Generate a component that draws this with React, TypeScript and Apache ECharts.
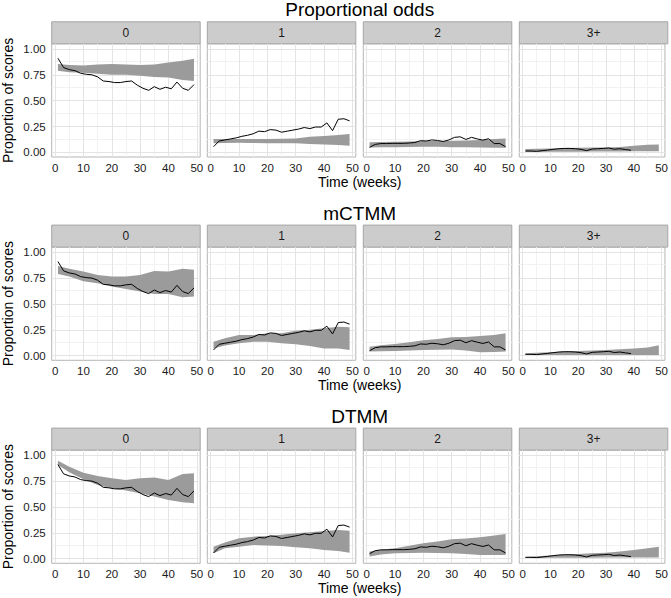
import React, { useEffect, useRef } from "react";
import * as echarts from "echarts";

// ---------- data ----------
const rowTitles = ["Proportional odds", "mCTMM", "DTMM"];
const categories = ["0", "1", "2", "3+"];

const obsWeeks = [1, 3, 5, 7, 9, 11, 13, 15, 17, 19, 21, 23, 25, 27, 29, 31, 33, 35, 37, 39, 41, 43, 45, 47, 49];
const obsWeeks3 = [1, 3, 5, 7, 9, 11, 13, 15, 17, 19, 21, 23, 25, 27, 29, 31, 33, 35, 37, 39];

const observed0 = [0.91, 0.82, 0.8, 0.79, 0.765, 0.755, 0.75, 0.73, 0.69, 0.685, 0.675, 0.675, 0.685, 0.69, 0.65, 0.62, 0.6, 0.635, 0.61, 0.63, 0.615, 0.68, 0.62, 0.6, 0.655];
const observed1 = [0.055, 0.11, 0.12, 0.13, 0.14, 0.155, 0.165, 0.18, 0.205, 0.2, 0.22, 0.215, 0.195, 0.205, 0.215, 0.225, 0.24, 0.23, 0.245, 0.245, 0.285, 0.21, 0.32, 0.325, 0.305];
const observed2 = [0.048, 0.077, 0.085, 0.085, 0.087, 0.087, 0.087, 0.09, 0.095, 0.113, 0.11, 0.12, 0.115, 0.105, 0.12, 0.145, 0.15, 0.125, 0.145, 0.13, 0.118, 0.132, 0.085, 0.085, 0.055];
const observed3 = [0.013, 0.013, 0.01, 0.016, 0.022, 0.029, 0.035, 0.038, 0.038, 0.035, 0.029, 0.016, 0.032, 0.035, 0.038, 0.042, 0.03, 0.035, 0.027, 0.02];

const ribbonWeeks = [1, 5, 10, 15, 20, 25, 30, 35, 40, 45, 49];

// Proportional odds: prediction band (lower / upper) per category
const poLow0 = [0.79, 0.775, 0.77, 0.76, 0.75, 0.75, 0.74, 0.73, 0.725, 0.7, 0.69];
const poHigh0 = [0.855, 0.845, 0.84, 0.85, 0.855, 0.85, 0.845, 0.85, 0.87, 0.887, 0.905];
const poLow1 = [0.087, 0.09, 0.093, 0.09, 0.087, 0.087, 0.087, 0.08, 0.077, 0.07, 0.064];
const poHigh1 = [0.13, 0.13, 0.13, 0.13, 0.13, 0.132, 0.135, 0.15, 0.158, 0.168, 0.177];
const poLow2 = [0.048, 0.05, 0.05, 0.052, 0.055, 0.055, 0.05, 0.05, 0.048, 0.045, 0.045];
const poHigh2 = [0.097, 0.1, 0.103, 0.105, 0.11, 0.11, 0.113, 0.115, 0.12, 0.13, 0.135];
const poLow3 = [0.003, 0.004, 0.005, 0.006, 0.006, 0.007, 0.007, 0.008, 0.01, 0.01, 0.01];
const poHigh3 = [0.032, 0.035, 0.038, 0.042, 0.045, 0.046, 0.048, 0.052, 0.064, 0.074, 0.077];

// mCTMM
const mcLow0 = [0.79, 0.765, 0.72, 0.7, 0.668, 0.645, 0.62, 0.597, 0.597, 0.565, 0.571];
const mcHigh0 = [0.868, 0.84, 0.813, 0.78, 0.765, 0.765, 0.78, 0.82, 0.813, 0.84, 0.832];
const mcLow1 = [0.07, 0.097, 0.12, 0.135, 0.135, 0.12, 0.11, 0.094, 0.07, 0.07, 0.055];
const mcHigh1 = [0.135, 0.168, 0.2, 0.2, 0.216, 0.216, 0.24, 0.25, 0.265, 0.28, 0.275];
const mcLow2 = [0.039, 0.042, 0.045, 0.05, 0.055, 0.058, 0.06, 0.05, 0.032, 0.035, 0.039];
const mcHigh2 = [0.087, 0.1, 0.113, 0.13, 0.15, 0.16, 0.177, 0.18, 0.19, 0.2, 0.216];
const mcLow3 = [0.006, 0.006, 0.006, 0.006, 0.006, 0.006, 0.006, 0.006, 0.006, 0.006, 0.006];
const mcHigh3 = [0.023, 0.028, 0.034, 0.04, 0.045, 0.05, 0.055, 0.062, 0.07, 0.08, 0.1];

// DTMM
const dtLow0 = [0.906, 0.835, 0.768, 0.713, 0.68, 0.658, 0.632, 0.6, 0.568, 0.545, 0.535];
const dtHigh0 = [0.948, 0.89, 0.832, 0.8, 0.777, 0.76, 0.777, 0.784, 0.76, 0.82, 0.826];
const dtLow1 = [0.052, 0.1, 0.116, 0.132, 0.126, 0.123, 0.11, 0.1, 0.084, 0.074, 0.058];
const dtHigh1 = [0.116, 0.155, 0.197, 0.213, 0.22, 0.23, 0.245, 0.255, 0.268, 0.277, 0.27];
const dtLow2 = [0.02, 0.04, 0.052, 0.055, 0.058, 0.055, 0.052, 0.045, 0.035, 0.035, 0.035];
const dtHigh2 = [0.068, 0.085, 0.1, 0.125, 0.148, 0.165, 0.187, 0.195, 0.206, 0.225, 0.239];
const dtLow3 = [0.006, 0.007, 0.008, 0.008, 0.009, 0.009, 0.01, 0.01, 0.01, 0.01, 0.01];
const dtHigh3 = [0.016, 0.022, 0.03, 0.038, 0.045, 0.052, 0.058, 0.07, 0.084, 0.1, 0.116];

const xTicks = [0, 10, 20, 30, 40, 50];
const xMinorTicks = [5, 15, 25, 35, 45];
const yTicks = [0, 0.25, 0.5, 0.75, 1];
const yMinorTicks = [0.125, 0.375, 0.625, 0.875];

// ---------- assembly ----------
const observedWeeks = [obsWeeks, obsWeeks, obsWeeks, obsWeeks3];
const observed = [observed0, observed1, observed2, observed3];
const bandLow = [
  [poLow0, poLow1, poLow2, poLow3],
  [mcLow0, mcLow1, mcLow2, mcLow3],
  [dtLow0, dtLow1, dtLow2, dtLow3],
];
const bandHigh = [
  [poHigh0, poHigh1, poHigh2, poHigh3],
  [mcHigh0, mcHigh1, mcHigh2, mcHigh3],
  [dtHigh0, dtHigh1, dtHigh2, dtHigh3],
];

const FONT = "Liberation Sans, Arial, Helvetica, sans-serif";
const panelLefts = [51.7, 207.3, 363.3, 519.3];
const panelWidth = 148.5;
const panelTops = [43.8, 247.1, 450.1];
const panelHeight = 113.2;
const stripHeight = 22;
const ribbonColor = "#9b9b9b";

function buildOption() {
  const grid: any[] = [];
  const xAxis: any[] = [];
  const yAxis: any[] = [];
  const series: any[] = [];
  const graphic: any[] = [];

  rowTitles.forEach((title, r) => {
    const top = panelTops[r];
    graphic.push({
      type: "text",
      x: 359.7,
      y: top - 34,
      style: { text: title, fontSize: 19, fontFamily: FONT, fill: "#000", align: "center", verticalAlign: "middle" },
    });
    graphic.push({
      type: "text",
      x: 359.7,
      y: top + panelHeight + 25,
      style: { text: "Time (weeks)", fontSize: 14, fontFamily: FONT, fill: "#000", align: "center", verticalAlign: "middle" },
    });
    graphic.push({
      type: "text",
      x: 8,
      y: top + panelHeight / 2,
      rotation: Math.PI / 2,
      style: { text: "Proportion of scores", fontSize: 14, fontFamily: FONT, fill: "#000", align: "center", verticalAlign: "middle" },
    });

    categories.forEach((cat, c) => {
      const idx = r * 4 + c;
      const left = panelLefts[c];
      graphic.push({
        type: "rect",
        shape: { x: left, y: top - stripHeight, width: panelWidth, height: stripHeight },
        style: { fill: "#cccccc", stroke: "#a6a6a6", lineWidth: 1 },
      });
      graphic.push({
        type: "text",
        x: left + panelWidth / 2,
        y: top - stripHeight / 2,
        style: { text: cat, fontSize: 12, fontFamily: FONT, fill: "#1a1a1a", align: "center", verticalAlign: "middle" },
      });

      grid.push({
        left,
        top,
        width: panelWidth,
        height: panelHeight,
        show: true,
        backgroundColor: "#ffffff",
        borderColor: "#b5b5b5",
        borderWidth: 1,
        containLabel: false,
      });
      xAxis.push({
        type: "value",
        gridIndex: idx,
        min: -1.2,
        max: 51.2,
        axisLine: { show: false },
        axisTick: { show: true, customValues: xTicks, length: 3, lineStyle: { color: "#333", width: 1 } },
        axisLabel: { customValues: xTicks, fontSize: 11.5, fontFamily: FONT, color: "#1a1a1a", margin: 5 },
        splitLine: { show: false },
      });
      yAxis.push({
        type: "value",
        gridIndex: idx,
        min: -0.045,
        max: 1.05,
        axisLine: { show: false },
        axisTick: { show: c === 0, customValues: yTicks, length: 3, lineStyle: { color: "#333", width: 1 } },
        axisLabel: {
          show: c === 0,
          customValues: yTicks,
          fontSize: 11.5,
          fontFamily: FONT,
          color: "#1a1a1a",
          margin: 6,
          formatter: (v: number) => v.toFixed(2),
        },
        splitLine: { show: false },
      });

      const lo = bandLow[r][c];
      const hi = bandHigh[r][c];
      series.push({
        type: "custom",
        xAxisIndex: idx,
        yAxisIndex: idx,
        z: 10,
        silent: true,
        data: ribbonWeeks.map((w, k) => [w, lo[k], hi[k]]),
        encode: { x: 0, y: [1, 2] },
        renderItem: (params: any, api: any) => {
          if (params.dataIndex !== 0) return null;
          const upper = ribbonWeeks.map((w, k) => api.coord([w, hi[k]]));
          const lower = ribbonWeeks.map((w, k) => api.coord([w, lo[k]])).reverse();
          return { type: "polygon", shape: { points: upper.concat(lower) }, style: { fill: ribbonColor } };
        },
      });

      const wk = observedWeeks[c];
      const ob = observed[c];
      const major = { color: "#e4e4e4", width: 1, type: "solid" };
      const minor = { color: "#f2f2f2", width: 1, type: "solid" };
      series.push({
        type: "line",
        xAxisIndex: idx,
        yAxisIndex: idx,
        z: 11,
        silent: true,
        symbol: "none",
        showSymbol: false,
        lineStyle: { color: "#000", width: 1 },
        data: wk.map((w, k) => [w, ob[k]]),
        markLine: {
          z: 1,
          silent: true,
          symbol: ["none", "none"],
          label: { show: false },
          emphasis: { disabled: true },
          data: [
            ...xMinorTicks.map((v) => ({ xAxis: v, lineStyle: minor })),
            ...yMinorTicks.map((v) => ({ yAxis: v, lineStyle: minor })),
            ...xTicks.map((v) => ({ xAxis: v, lineStyle: major })),
            ...yTicks.map((v) => ({ yAxis: v, lineStyle: major })),
          ],
        },
      });
    });
  });

  return { animation: false, backgroundColor: "#ffffff", grid, xAxis, yAxis, series, graphic };
}

export default function App() {
  const ref = useRef<HTMLDivElement>(null);
  useEffect(() => {
    if (!ref.current) return;
    const chart = echarts.init(ref.current, null, { renderer: "svg" });
    chart.setOption(buildOption() as any);
    return () => chart.dispose();
  }, []);
  return <div ref={ref} style={{ width: 671, height: 598, position: "absolute", left: 0, top: 0 }} />;
}
